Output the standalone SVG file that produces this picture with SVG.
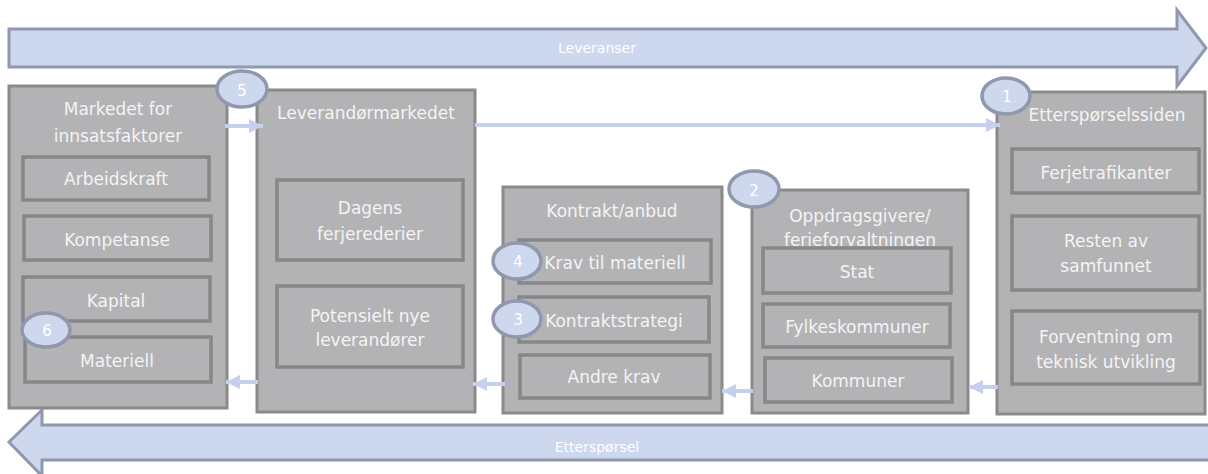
<svg xmlns="http://www.w3.org/2000/svg" width="1208" height="474" viewBox="0 0 1208 474">
<style>
.bg{fill:#ffffff}
.band{fill:#CDD7EE;stroke:#8F98AD;stroke-width:3;stroke-linejoin:miter}
.box{fill:#B3B3B5;stroke:#8A8A8B;stroke-width:3}
.inner{fill:#B3B3B5;stroke:#878788;stroke-width:3.5}
.t{font-family:"DejaVu Sans",sans-serif;font-size:17px;fill:#F4F4F4;text-anchor:middle}
.bt{font-family:"DejaVu Sans",sans-serif;font-size:14px;fill:#FFFFFF;text-anchor:middle}
.num{fill:#CDD7EE;stroke:#8F98AD;stroke-width:3.5}
.nt{font-family:"DejaVu Sans",sans-serif;font-size:15px;fill:#FFFFFF;text-anchor:middle}
.conn{stroke:#C5D0EC;stroke-width:4;fill:none}
</style>
<defs>
<marker id="ah" markerUnits="userSpaceOnUse" markerWidth="16" markerHeight="16" refX="14" refY="7" orient="auto">
<path d="M0,0 L14,7 L0,14 z" fill="#C5D0EC"/>
</marker>
</defs>
<rect class="bg" x="0" y="0" width="1208" height="474"/>

<g id="leveranser">
<polygon class="band" points="9,29 1177,29 1177,10 1206,48 1177,86 1177,67 9,67"/>
<text class="bt" x="597" y="53">Leveranser</text>
</g>

<g id="ettersporsel">
<polygon class="band" points="1214,425 42,425 42,410 9,442 42,476 42,460 1214,460"/>
<text class="bt" x="597" y="452">Etterspørsel</text>
</g>

<g id="markedet-innsatsfaktorer">
<rect class="box" x="9" y="86" width="218" height="322"/>
<text class="t" x="118" y="115">Markedet for</text>
<text class="t" x="118" y="142">innsatsfaktorer</text>
<rect class="inner" x="23" y="157" width="186" height="43"/>
<text class="t" x="116" y="185">Arbeidskraft</text>
<rect class="inner" x="24" y="216" width="187" height="44"/>
<text class="t" x="117" y="246">Kompetanse</text>
<rect class="inner" x="23" y="277" width="187" height="44"/>
<text class="t" x="116" y="307">Kapital</text>
<rect class="inner" x="25" y="337" width="186" height="45"/>
<text class="t" x="117" y="367">Materiell</text>
</g>

<g id="leverandormarkedet">
<rect class="box" x="257" y="90" width="218" height="322"/>
<text class="t" x="366" y="119">Leverandørmarkedet</text>
<rect class="inner" x="277" y="180" width="186" height="80"/>
<text class="t" x="370" y="214">Dagens</text>
<text class="t" x="370" y="240">ferjerederier</text>
<rect class="inner" x="277" y="286" width="186" height="81"/>
<text class="t" x="370" y="322">Potensielt nye</text>
<text class="t" x="370" y="346">leverandører</text>
</g>

<g id="kontrakt-anbud">
<rect class="box" x="503" y="187" width="219" height="226"/>
<text class="t" x="612" y="217">Kontrakt/anbud</text>
<rect class="inner" x="519" y="240" width="192" height="43"/>
<text class="t" x="615" y="269">Krav til materiell</text>
<rect class="inner" x="519" y="297" width="190" height="45"/>
<text class="t" x="614" y="327">Kontraktstrategi</text>
<rect class="inner" x="520" y="355" width="190" height="43"/>
<text class="t" x="614" y="383">Andre krav</text>
</g>

<g id="oppdragsgivere">
<rect class="box" x="752" y="190" width="216" height="223"/>
<text class="t" x="860" y="222">Oppdragsgivere/</text>
<text class="t" x="860" y="246">ferjeforvaltningen</text>
<rect class="inner" x="763" y="248" width="188" height="45"/>
<text class="t" x="857" y="278">Stat</text>
<rect class="inner" x="763" y="304" width="187" height="43"/>
<text class="t" x="857" y="333">Fylkeskommuner</text>
<rect class="inner" x="765" y="358" width="187" height="44"/>
<text class="t" x="858" y="387">Kommuner</text>
</g>

<g id="ettersporselssiden">
<rect class="box" x="997" y="92" width="208" height="322"/>
<text class="t" x="1107" y="121">Etterspørselssiden</text>
<rect class="inner" x="1012" y="149" width="187" height="44"/>
<text class="t" x="1106" y="179">Ferjetrafikanter</text>
<rect class="inner" x="1012" y="216" width="187" height="74"/>
<text class="t" x="1106" y="247">Resten av</text>
<text class="t" x="1106" y="272">samfunnet</text>
<rect class="inner" x="1012" y="311" width="188" height="73"/>
<text class="t" x="1106" y="343">Forventning om</text>
<text class="t" x="1106" y="368">teknisk utvikling</text>
</g>

<g id="connectors">
<line class="conn" x1="225" y1="126" x2="263" y2="126" marker-end="url(#ah)"/>
<line class="conn" x1="475" y1="125" x2="1000" y2="125" marker-end="url(#ah)"/>
<line class="conn" x1="258" y1="382" x2="226" y2="382" marker-end="url(#ah)"/>
<line class="conn" x1="505" y1="384" x2="473" y2="384" marker-end="url(#ah)"/>
<line class="conn" x1="753" y1="391" x2="722" y2="391" marker-end="url(#ah)"/>
<line class="conn" x1="998" y1="387" x2="969" y2="387" marker-end="url(#ah)"/>
</g>

<g id="badge-1"><ellipse class="num" cx="1006" cy="96" rx="24" ry="18"/><text class="nt" x="1007" y="102">1</text></g>
<g id="badge-2"><ellipse class="num" cx="754" cy="189" rx="25" ry="18"/><text class="nt" x="754" y="196">2</text></g>
<g id="badge-3"><ellipse class="num" cx="517" cy="319" rx="24" ry="18"/><text class="nt" x="518" y="325">3</text></g>
<g id="badge-4"><ellipse class="num" cx="517" cy="261" rx="24" ry="18"/><text class="nt" x="518" y="267">4</text></g>
<g id="badge-5"><ellipse class="num" cx="242" cy="89" rx="25" ry="18"/><text class="nt" x="242" y="96">5</text></g>
<g id="badge-6"><ellipse class="num" cx="46" cy="330" rx="24" ry="17"/><text class="nt" x="47" y="336">6</text></g>
</svg>
